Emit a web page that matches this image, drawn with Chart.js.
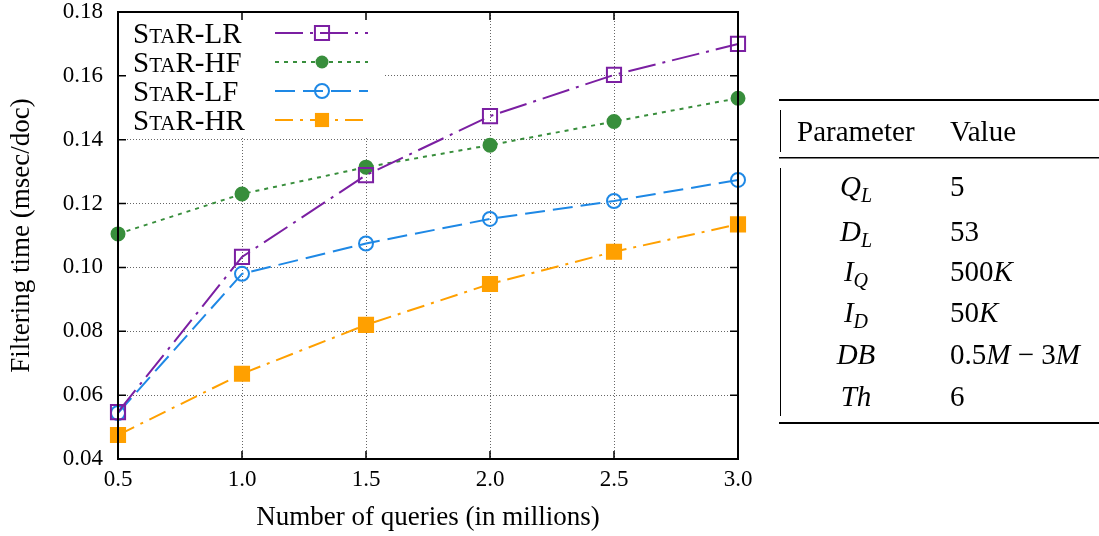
<!DOCTYPE html>
<html lang="en">
<head>
  <meta charset="UTF-8" />
  <title>Filtering time vs number of queries</title>
  <style>
    body { margin: 0; background: #fff; font-family: 'Liberation Serif', serif; color: #000; }
    #wrap { position: relative; width: 1099px; height: 536px; }
    #chart { position: absolute; left: 0; top: 0; }
    #params { position: absolute; left: 0; top: 0; }
    #params text { font-family: 'Liberation Serif', serif; font-size: 29px; fill: #000; }
  </style>
</head>
<body>
  <div id="wrap">
    <canvas id="chart" width="760" height="536"></canvas>

    <!-- parameter table on the right -->
    <svg id="params" width="1099" height="536" xmlns="http://www.w3.org/2000/svg">
      <rect x="779" y="99" width="320" height="2" />
      <rect x="780" y="110" width="1" height="42" />
      <text x="797" y="141">Parameter</text>
      <text x="950" y="141">Value</text>
      <rect x="779" y="157" width="320" height="1.5" />
      <rect x="780" y="168" width="1" height="248" />

      <text x="856" y="196" text-anchor="middle"><tspan font-style="italic">Q</tspan><tspan font-style="italic" font-size="20" dy="6">L</tspan></text>
      <text x="950" y="196">5</text>
      <text x="856" y="241" text-anchor="middle"><tspan font-style="italic">D</tspan><tspan font-style="italic" font-size="20" dy="6">L</tspan></text>
      <text x="950" y="241">53</text>
      <text x="856" y="281" text-anchor="middle"><tspan font-style="italic">I</tspan><tspan font-style="italic" font-size="20" dy="6">Q</tspan></text>
      <text x="950" y="281">500<tspan font-style="italic">K</tspan></text>
      <text x="856" y="322" text-anchor="middle"><tspan font-style="italic">I</tspan><tspan font-style="italic" font-size="20" dy="6">D</tspan></text>
      <text x="950" y="322">50<tspan font-style="italic">K</tspan></text>
      <text x="856" y="364" text-anchor="middle" font-style="italic">DB</text>
      <text x="950" y="364">0.5<tspan font-style="italic">M</tspan> &#8722; 3<tspan font-style="italic">M</tspan></text>
      <text x="856" y="406" text-anchor="middle" font-style="italic">Th</text>
      <text x="950" y="406">6</text>
      <rect x="779" y="422" width="320" height="2" />
    </svg>
  </div>

  <script src="https://cdn.jsdelivr.net/npm/chart.js"></script>
  <script>
    // data
    const queries = [0.5, 1.0, 1.5, 2.0, 2.5, 3.0];   // millions of queries
    const starLR = [0.0547, 0.1033, 0.1289, 0.1474, 0.1603, 0.1700];
    const starHF = [0.1105, 0.1230, 0.1314, 0.1383, 0.1457, 0.1530];
    const starLF = [0.0544, 0.0980, 0.1075, 0.1152, 0.1208, 0.1274];
    const starHR = [0.0475, 0.0667, 0.0820, 0.0948, 0.1049, 0.1135];
    const xTicks = [0.5, 1.0, 1.5, 2.0, 2.5, 3.0];
    const yTicks = [0.04, 0.06, 0.08, 0.10, 0.12, 0.14, 0.16, 0.18];

    const FONT = "'Liberation Serif', serif";
    const toPoints = ys => ys.map((y, i) => ({ x: queries[i], y: y }));

    const series = [
      { name: 'R-LR', data: starLR, color: '#7b1fa2', dash: [28, 7, 3, 7], style: 'rect', r: 10, open: true },
      { name: 'R-HF', data: starHF, color: '#388e3c', dash: [4, 5], style: 'circle', r: 6.5, open: false },
      { name: 'R-LF', data: starLF, color: '#1e88e5', dash: [20, 8], style: 'circle', r: 7, open: true },
      { name: 'R-HR', data: starHR, color: '#ffa000', dash: [18, 7, 3, 7], style: 'rect', r: 10, open: false }
    ];

    function drawMarker(ctx, s, x, y) {
      ctx.save();
      ctx.setLineDash([]);
      ctx.lineWidth = 2;
      ctx.strokeStyle = s.color;
      ctx.fillStyle = s.color;
      ctx.beginPath();
      if (s.style === 'rect') {
        const h = s.r * Math.SQRT1_2;
        ctx.rect(x - h, y - h, 2 * h, 2 * h);
      } else {
        ctx.arc(x, y, s.r, 0, Math.PI * 2);
      }
      if (s.open) ctx.stroke(); else ctx.fill();
      ctx.restore();
    }

    // gnuplot-style key in the top-left corner
    const legendRows = [33, 62, 91, 120];
    const keyPlugin = {
      id: 'key',
      afterDatasetsDraw(chart) {
        const ctx = chart.ctx;
        ctx.save();
        ctx.fillStyle = '#fff';
        ctx.fillRect(120, 14, 263, 123);
        ctx.textBaseline = 'alphabetic';
        series.forEach((s, i) => {
          const y = legendRows[i];
          let x = 133;
          ctx.fillStyle = '#000';
          ctx.font = '29px ' + FONT;
          ctx.fillText('S', x, y + 10);
          x += ctx.measureText('S').width;
          ctx.font = '21px ' + FONT;
          ctx.fillText('TA', x, y + 10);
          x += ctx.measureText('TA').width;
          ctx.font = '29px ' + FONT;
          ctx.fillText(s.name, x, y + 10);

          ctx.strokeStyle = s.color;
          ctx.lineWidth = 2;
          ctx.setLineDash(s.dash);
          ctx.beginPath();
          ctx.moveTo(275, y);
          ctx.lineTo(368, y);
          ctx.stroke();
          drawMarker(ctx, s, 322, y);
        });
        ctx.restore();
      }
    };

    // black frame with inward tick marks on all four sides
    const framePlugin = {
      id: 'frame',
      afterDraw(chart) {
        const { ctx, chartArea: a, scales } = chart;
        ctx.save();
        ctx.strokeStyle = '#000';
        ctx.lineWidth = 1.5;
        ctx.beginPath();
        xTicks.forEach(v => {
          const px = scales.x.getPixelForValue(v);
          ctx.moveTo(px, a.bottom); ctx.lineTo(px, a.bottom - 8);
          ctx.moveTo(px, a.top); ctx.lineTo(px, a.top + 8);
        });
        yTicks.forEach(v => {
          const py = scales.y.getPixelForValue(v);
          ctx.moveTo(a.left, py); ctx.lineTo(a.left + 8, py);
          ctx.moveTo(a.right, py); ctx.lineTo(a.right - 8, py);
        });
        ctx.stroke();
        ctx.lineWidth = 2;
        ctx.strokeRect(a.left, a.top, a.right - a.left, a.bottom - a.top);
        ctx.restore();
      }
    };

    new Chart(document.getElementById('chart'), {
      type: 'line',
      data: {
        datasets: series.map(s => ({
          label: 'StaR-' + s.name.slice(2),
          data: toPoints(s.data),
          borderColor: s.color,
          borderWidth: 2,
          borderDash: s.dash,
          pointStyle: s.style,
          pointRadius: s.r,
          pointBorderWidth: 2,
          pointBorderColor: s.color,
          pointBackgroundColor: s.open ? 'rgba(0,0,0,0)' : s.color,
          fill: false,
          tension: 0,
          clip: false
        }))
      },
      options: {
        responsive: false,
        animation: false,
        layout: { padding: { top: 12, right: 22, left: 0, bottom: 0 } },
        plugins: { legend: { display: false }, tooltip: { enabled: false } },
        scales: {
          x: {
            type: 'linear',
            min: 0.5, max: 3.0,
            afterFit: s => { s.height = 77; s.paddingLeft = 0; s.paddingRight = 0; },
            afterBuildTicks: s => { s.ticks = xTicks.map(v => ({ value: v })); },
            ticks: {
              padding: 9,
              color: '#000',
              font: { family: FONT, size: 23, lineHeight: 1 },
              callback: v => Number(v).toFixed(1)
            },
            grid: { color: '#666', lineWidth: 1, drawTicks: false },
            border: { display: false, dash: [1, 2] },
            title: {
              display: true,
              text: 'Number of queries (in millions)',
              color: '#000',
              font: { family: FONT, size: 27, lineHeight: 1.2 },
              padding: { top: 0, bottom: 2 }
            }
          },
          y: {
            min: 0.04, max: 0.18,
            afterFit: s => { s.width = 118; s.paddingTop = 0; s.paddingBottom = 0; },
            afterBuildTicks: s => { s.ticks = yTicks.map(v => ({ value: v })); },
            ticks: {
              padding: 15,
              color: '#000',
              font: { family: FONT, size: 23, lineHeight: 1 },
              callback: v => Number(v).toFixed(2)
            },
            grid: { color: '#666', lineWidth: 1, drawTicks: false },
            border: { display: false, dash: [1, 2] },
            title: {
              display: true,
              text: 'Filtering time (msec/doc)',
              color: '#000',
              font: { family: FONT, size: 27, lineHeight: 1.2 },
              padding: { top: 6, bottom: 0 }
            }
          }
        }
      },
      plugins: [keyPlugin, framePlugin]
    });
  </script>
</body>
</html>
